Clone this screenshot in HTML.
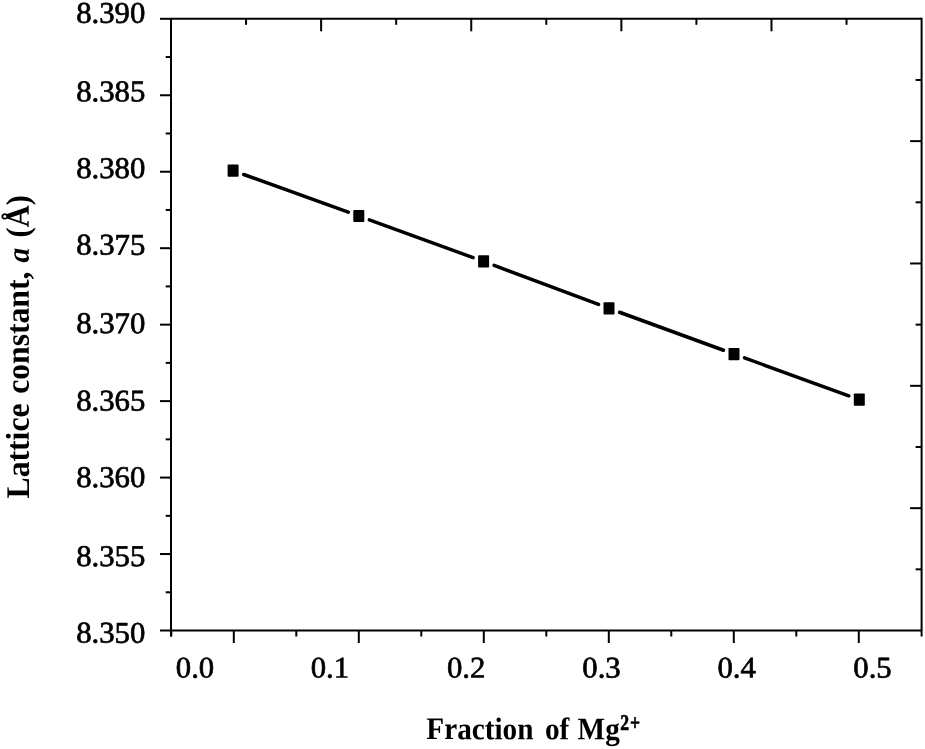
<!DOCTYPE html>
<html lang="en">
<head>
<meta charset="utf-8">
<title>Lattice constant vs fraction of Mg2+</title>
<style>
html, body { margin: 0; padding: 0; background: #ffffff; }
body { width: 925px; height: 749px; overflow: hidden; }
svg { display: block; }
text { font-family: "Liberation Serif", "Times New Roman", serif; fill: #000; white-space: pre; }
.tk { font-size: 30px; stroke: #000; stroke-width: 0.7px; stroke-linejoin: round; }
.ti { font-size: 30px; font-weight: bold; }
.sup { font-size: 22px; stroke: #000; stroke-width: 0.7px; }
.it { font-style: italic; font-size: 28px; }
</style>
</head>
<body>
<svg width="925" height="749" viewBox="0 0 925 749">
<rect x="0" y="0" width="925" height="749" fill="#ffffff"/>
<line x1="171.00" y1="18.80" x2="171.00" y2="636.50" stroke="#000" stroke-width="2.0" stroke-linecap="butt"/>
<line x1="921.60" y1="17.80" x2="921.60" y2="636.50" stroke="#000" stroke-width="2.0" stroke-linecap="butt"/>
<line x1="171.00" y1="18.80" x2="921.60" y2="18.80" stroke="#000" stroke-width="2.0" stroke-linecap="butt"/>
<line x1="171.00" y1="630.50" x2="921.60" y2="630.50" stroke="#000" stroke-width="2.0" stroke-linecap="butt"/>
<line x1="160.00" y1="18.80" x2="171.00" y2="18.80" stroke="#000" stroke-width="2.0" stroke-linecap="butt"/>
<line x1="165.70" y1="57.03" x2="171.00" y2="57.03" stroke="#000" stroke-width="2.0" stroke-linecap="butt"/>
<line x1="160.00" y1="95.26" x2="171.00" y2="95.26" stroke="#000" stroke-width="2.0" stroke-linecap="butt"/>
<line x1="165.70" y1="133.49" x2="171.00" y2="133.49" stroke="#000" stroke-width="2.0" stroke-linecap="butt"/>
<line x1="160.00" y1="171.73" x2="171.00" y2="171.73" stroke="#000" stroke-width="2.0" stroke-linecap="butt"/>
<line x1="165.70" y1="209.96" x2="171.00" y2="209.96" stroke="#000" stroke-width="2.0" stroke-linecap="butt"/>
<line x1="160.00" y1="248.19" x2="171.00" y2="248.19" stroke="#000" stroke-width="2.0" stroke-linecap="butt"/>
<line x1="165.70" y1="286.42" x2="171.00" y2="286.42" stroke="#000" stroke-width="2.0" stroke-linecap="butt"/>
<line x1="160.00" y1="324.65" x2="171.00" y2="324.65" stroke="#000" stroke-width="2.0" stroke-linecap="butt"/>
<line x1="165.70" y1="362.88" x2="171.00" y2="362.88" stroke="#000" stroke-width="2.0" stroke-linecap="butt"/>
<line x1="160.00" y1="401.11" x2="171.00" y2="401.11" stroke="#000" stroke-width="2.0" stroke-linecap="butt"/>
<line x1="165.70" y1="439.34" x2="171.00" y2="439.34" stroke="#000" stroke-width="2.0" stroke-linecap="butt"/>
<line x1="160.00" y1="477.58" x2="171.00" y2="477.58" stroke="#000" stroke-width="2.0" stroke-linecap="butt"/>
<line x1="165.70" y1="515.81" x2="171.00" y2="515.81" stroke="#000" stroke-width="2.0" stroke-linecap="butt"/>
<line x1="160.00" y1="554.04" x2="171.00" y2="554.04" stroke="#000" stroke-width="2.0" stroke-linecap="butt"/>
<line x1="165.70" y1="592.27" x2="171.00" y2="592.27" stroke="#000" stroke-width="2.0" stroke-linecap="butt"/>
<line x1="160.00" y1="630.50" x2="171.00" y2="630.50" stroke="#000" stroke-width="2.0" stroke-linecap="butt"/>
<line x1="915.60" y1="79.97" x2="921.60" y2="79.97" stroke="#000" stroke-width="2.0" stroke-linecap="butt"/>
<line x1="910.10" y1="141.14" x2="921.60" y2="141.14" stroke="#000" stroke-width="2.0" stroke-linecap="butt"/>
<line x1="915.60" y1="202.31" x2="921.60" y2="202.31" stroke="#000" stroke-width="2.0" stroke-linecap="butt"/>
<line x1="910.10" y1="263.48" x2="921.60" y2="263.48" stroke="#000" stroke-width="2.0" stroke-linecap="butt"/>
<line x1="915.60" y1="324.65" x2="921.60" y2="324.65" stroke="#000" stroke-width="2.0" stroke-linecap="butt"/>
<line x1="910.10" y1="385.82" x2="921.60" y2="385.82" stroke="#000" stroke-width="2.0" stroke-linecap="butt"/>
<line x1="915.60" y1="446.99" x2="921.60" y2="446.99" stroke="#000" stroke-width="2.0" stroke-linecap="butt"/>
<line x1="910.10" y1="508.16" x2="921.60" y2="508.16" stroke="#000" stroke-width="2.0" stroke-linecap="butt"/>
<line x1="915.60" y1="569.33" x2="921.60" y2="569.33" stroke="#000" stroke-width="2.0" stroke-linecap="butt"/>
<line x1="171.30" y1="630.50" x2="171.30" y2="636.50" stroke="#000" stroke-width="2.0" stroke-linecap="butt"/>
<line x1="233.80" y1="630.50" x2="233.80" y2="643.00" stroke="#000" stroke-width="2.0" stroke-linecap="butt"/>
<line x1="296.30" y1="630.50" x2="296.30" y2="636.50" stroke="#000" stroke-width="2.0" stroke-linecap="butt"/>
<line x1="358.80" y1="630.50" x2="358.80" y2="643.00" stroke="#000" stroke-width="2.0" stroke-linecap="butt"/>
<line x1="421.30" y1="630.50" x2="421.30" y2="636.50" stroke="#000" stroke-width="2.0" stroke-linecap="butt"/>
<line x1="483.80" y1="630.50" x2="483.80" y2="643.00" stroke="#000" stroke-width="2.0" stroke-linecap="butt"/>
<line x1="546.30" y1="630.50" x2="546.30" y2="636.50" stroke="#000" stroke-width="2.0" stroke-linecap="butt"/>
<line x1="608.80" y1="630.50" x2="608.80" y2="643.00" stroke="#000" stroke-width="2.0" stroke-linecap="butt"/>
<line x1="671.30" y1="630.50" x2="671.30" y2="636.50" stroke="#000" stroke-width="2.0" stroke-linecap="butt"/>
<line x1="733.80" y1="630.50" x2="733.80" y2="643.00" stroke="#000" stroke-width="2.0" stroke-linecap="butt"/>
<line x1="796.30" y1="630.50" x2="796.30" y2="636.50" stroke="#000" stroke-width="2.0" stroke-linecap="butt"/>
<line x1="858.80" y1="630.50" x2="858.80" y2="643.00" stroke="#000" stroke-width="2.0" stroke-linecap="butt"/>
<line x1="246.06" y1="18.80" x2="246.06" y2="24.80" stroke="#000" stroke-width="2.0" stroke-linecap="butt"/>
<line x1="321.12" y1="18.80" x2="321.12" y2="31.30" stroke="#000" stroke-width="2.0" stroke-linecap="butt"/>
<line x1="396.18" y1="18.80" x2="396.18" y2="24.80" stroke="#000" stroke-width="2.0" stroke-linecap="butt"/>
<line x1="471.24" y1="18.80" x2="471.24" y2="31.30" stroke="#000" stroke-width="2.0" stroke-linecap="butt"/>
<line x1="546.30" y1="18.80" x2="546.30" y2="24.80" stroke="#000" stroke-width="2.0" stroke-linecap="butt"/>
<line x1="621.36" y1="18.80" x2="621.36" y2="31.30" stroke="#000" stroke-width="2.0" stroke-linecap="butt"/>
<line x1="696.42" y1="18.80" x2="696.42" y2="24.80" stroke="#000" stroke-width="2.0" stroke-linecap="butt"/>
<line x1="771.48" y1="18.80" x2="771.48" y2="31.30" stroke="#000" stroke-width="2.0" stroke-linecap="butt"/>
<line x1="846.54" y1="18.80" x2="846.54" y2="24.80" stroke="#000" stroke-width="2.0" stroke-linecap="butt"/>
<line x1="243.64" y1="174.50" x2="348.26" y2="212.20" stroke="#000" stroke-width="3.5" stroke-linecap="round"/>
<line x1="369.33" y1="219.83" x2="473.07" y2="257.57" stroke="#000" stroke-width="3.5" stroke-linecap="round"/>
<line x1="494.09" y1="265.33" x2="598.51" y2="304.47" stroke="#000" stroke-width="3.5" stroke-linecap="round"/>
<line x1="619.52" y1="312.25" x2="723.48" y2="350.25" stroke="#000" stroke-width="3.5" stroke-linecap="round"/>
<line x1="744.53" y1="357.92" x2="848.77" y2="395.78" stroke="#000" stroke-width="3.5" stroke-linecap="round"/>
<rect x="227.60" y="164.60" width="11" height="12.2" rx="0.8" fill="#000"/>
<rect x="353.30" y="209.90" width="11" height="12.2" rx="0.8" fill="#000"/>
<rect x="478.10" y="255.30" width="11" height="12.2" rx="0.8" fill="#000"/>
<rect x="603.50" y="302.30" width="11" height="12.2" rx="0.8" fill="#000"/>
<rect x="728.50" y="348.00" width="11" height="12.2" rx="0.8" fill="#000"/>
<rect x="853.80" y="393.50" width="11" height="12.2" rx="0.8" fill="#000"/>
<text class="tk" transform="translate(76.20 22.80) rotate(0.05) scale(1.025 1.0)">8.390</text>
<text class="tk" transform="translate(76.20 101.20) rotate(0.05) scale(1.025 1.0)">8.385</text>
<text class="tk" transform="translate(76.20 177.90) rotate(0.05) scale(1.025 1.0)">8.380</text>
<text class="tk" transform="translate(76.20 254.60) rotate(0.05) scale(1.025 1.0)">8.375</text>
<text class="tk" transform="translate(76.20 333.10) rotate(0.05) scale(1.025 1.0)">8.370</text>
<text class="tk" transform="translate(76.20 410.40) rotate(0.05) scale(1.025 1.0)">8.365</text>
<text class="tk" transform="translate(76.20 486.90) rotate(0.05) scale(1.025 1.0)">8.360</text>
<text class="tk" transform="translate(76.20 566.00) rotate(0.05) scale(1.025 1.0)">8.355</text>
<text class="tk" transform="translate(76.20 642.60) rotate(0.05) scale(1.025 1.0)">8.350</text>
<text class="tk" transform="translate(175.80 677.60) rotate(0.05) scale(1.025 1.0)">0.0</text>
<text class="tk" transform="translate(310.70 677.60) rotate(0.05) scale(1.025 1.0)">0.1</text>
<text class="tk" transform="translate(447.00 677.60) rotate(0.05) scale(1.025 1.0)">0.2</text>
<text class="tk" transform="translate(582.30 677.60) rotate(0.05) scale(1.025 1.0)">0.3</text>
<text class="tk" transform="translate(717.40 677.60) rotate(0.05) scale(1.025 1.0)">0.4</text>
<text class="tk" transform="translate(853.30 677.60) rotate(0.05) scale(1.025 1.0)">0.5</text>
<text class="ti" transform="translate(426.3 739.1) rotate(0.05) scale(0.975 1.045)"><tspan x="0.00">Fraction</tspan><tspan x="121.74"> </tspan><tspan x="121.74">of</tspan><tspan x="155.18"> </tspan><tspan x="155.18">Mg</tspan></text>
<text class="ti sup" transform="translate(620.3 730.0) rotate(0.05) scale(0.8 1.02)" letter-spacing="1.2">2+</text>
<text class="ti" transform="translate(28.9 498.1) rotate(-90.05) scale(1.055 1.1)"><tspan x="-0.28">Lattice</tspan><tspan x="98.86"> </tspan><tspan x="98.86">constant,</tspan><tspan x="223.32"> </tspan><tspan class="it" x="223.32">a</tspan><tspan x="247.11"> </tspan><tspan x="247.11" textLength="40.0" lengthAdjust="spacingAndGlyphs">(Å)</tspan></text>
</svg>
</body>
</html>
